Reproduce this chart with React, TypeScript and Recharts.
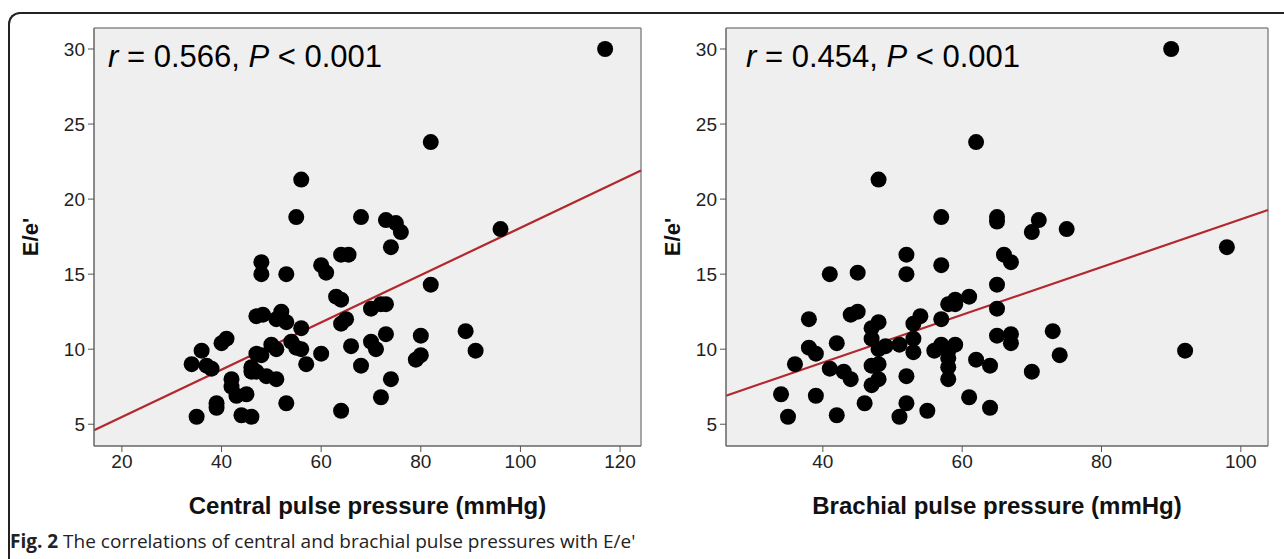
import React from "react";
import {
  CartesianGrid,
  ReferenceLine,
  Scatter,
  ScatterChart,
  XAxis,
  YAxis,
} from "recharts";

// Central pulse pressure (mmHg) vs E/e'
const centralPP = [
  117, 82, 56, 55, 68, 73, 75, 76, 74, 96, 64, 65.5, 48, 48, 53, 60, 61, 82,
  63, 64, 70, 72, 73, 47, 48.3, 52, 51, 53, 56, 65, 64, 73, 80, 89, 91, 41,
  40, 36, 34, 37, 38, 47, 48, 50, 51, 54, 55, 56, 57, 60, 66, 70, 71, 68, 79,
  80, 74, 72, 64, 53, 46, 47, 46, 49, 51, 42, 42, 43, 45, 39, 39, 35, 44, 46,
];
const centralEe = [
  30, 23.8, 21.3, 18.8, 18.8, 18.6, 18.4, 17.8, 16.8, 18, 16.3, 16.3, 15.8,
  15.0, 15.0, 15.6, 15.1, 14.3, 13.5, 13.3, 12.7, 13.0, 13.0, 12.2, 12.3,
  12.5, 12.0, 11.8, 11.4, 12.0, 11.7, 11.0, 10.9, 11.2, 9.9, 10.7, 10.4, 9.9,
  9.0, 8.9, 8.7, 9.7, 9.6, 10.3, 10.0, 10.5, 10.1, 10.0, 9.0, 9.7, 10.2, 10.5,
  10.0, 8.9, 9.3, 9.6, 8.0, 6.8, 5.9, 6.4, 8.8, 8.5, 8.5, 8.2, 8.0, 8.0, 7.5,
  6.9, 7.0, 6.4, 6.1, 5.5, 5.6, 5.5,
];

// Brachial pulse pressure (mmHg) vs E/e'
const brachialPP = [
  90, 62, 48, 57, 65, 65, 71, 70, 75, 98, 52, 57, 66, 67, 41, 45, 52, 65, 61,
  58, 59, 59, 65, 57, 54, 53, 38, 44, 45, 48, 47, 47, 42, 38, 39, 36, 34, 35,
  39, 42, 41, 43, 44, 46, 47, 48, 47, 48, 48, 49, 51, 53, 53, 52, 52, 51, 55,
  56, 57, 58, 58, 59, 58, 58, 61, 62, 64, 64, 65, 67, 67, 70, 73, 74, 92,
];
const brachialEe = [
  30, 23.8, 21.3, 18.8, 18.8, 18.5, 18.6, 17.8, 18, 16.8, 16.3, 15.6, 16.3,
  15.8, 15.0, 15.1, 15.0, 14.3, 13.5, 13.0, 13.3, 13.0, 12.7, 12.0, 12.2,
  11.7, 12.0, 12.3, 12.5, 11.8, 11.4, 10.7, 10.4, 10.1, 9.7, 9.0, 7.0, 5.5,
  6.9, 5.6, 8.7, 8.5, 8.0, 6.4, 7.6, 8.0, 8.9, 9.0, 10.0, 10.2, 10.3, 10.7,
  9.8, 8.2, 6.4, 5.5, 5.9, 9.9, 10.3, 9.9, 9.4, 10.3, 8.8, 8.0, 6.8, 9.3, 8.9,
  6.1, 10.9, 11.0, 10.4, 8.5, 11.2, 9.6, 9.9,
];

// fitted regression lines, end points
const centralFit = [
  { x: 14.4, y: 4.6 },
  { x: 124.2, y: 21.9 },
];
const brachialFit = [
  { x: 26.1, y: 6.9 },
  { x: 103.9, y: 19.27 },
];

const centralTicks = [20, 40, 60, 80, 100, 120];
const brachialTicks = [40, 60, 80, 100];
const eeTicks = [5, 10, 15, 20, 25, 30];

const centralDomain = [14.4, 124.2];
const brachialDomain = [26.1, 103.9];
const eeDomain = [3.55, 31.4];

const toPoints = (xs: number[], ys: number[]) =>
  xs.map((x, i) => ({ x, y: ys[i] }));

const AXIS_FONT = "Liberation Sans, Arial, sans-serif";
const FIT_COLOR = "#b3282d";

function Dot(props: { cx?: number; cy?: number }) {
  if (props.cx === undefined || props.cy === undefined) return null;
  return <circle cx={props.cx} cy={props.cy} r={8} fill="#000" />;
}

function YTitle({ viewBox, dx }: { viewBox?: any; dx: number }) {
  if (!viewBox) return null;
  const x = viewBox.x + dx;
  const y = viewBox.y + viewBox.height / 2;
  return (
    <text
      x={x}
      y={y}
      transform={`rotate(-90, ${x}, ${y})`}
      textAnchor="middle"
      dominantBaseline="central"
      fontFamily={AXIS_FONT}
      fontWeight={700}
      fontSize={22}
      fill="#111"
    >
      E/e'
    </text>
  );
}

function XTitle({ viewBox, value }: { viewBox?: any; value: string }) {
  if (!viewBox) return null;
  return (
    <text
      x={viewBox.x + viewBox.width / 2}
      y={viewBox.y + 68}
      textAnchor="middle"
      fontFamily={AXIS_FONT}
      fontWeight={700}
      fontSize={24}
      fill="#111"
    >
      {value}
    </text>
  );
}

type PanelProps = {
  left: number;
  width: number;
  yAxisWidth: number;
  marginRight: number;
  xs: number[];
  ys: number[];
  fit: { x: number; y: number }[];
  xDomain: number[];
  xTicks: number[];
  xTitle: string;
  yTitleDx: number;
};

function Panel(p: PanelProps) {
  const data = toPoints(p.xs, p.ys);
  return (
    <div style={{ position: "absolute", left: p.left, top: 0 }}>
      <ScatterChart
        width={p.width}
        height={559}
        margin={{ top: 28, right: p.marginRight, bottom: 0, left: 0 }}
      >
        <CartesianGrid fill="#efefef" horizontal={false} vertical={false} />
        <XAxis
          type="number"
          dataKey="x"
          domain={p.xDomain}
          ticks={p.xTicks}
          allowDataOverflow
          height={113}
          tickSize={6}
          tickMargin={3}
          axisLine={{ stroke: "#666", strokeWidth: 1.5 }}
          tickLine={{ stroke: "#555" }}
          tick={{ fontSize: 19, fill: "#222", fontFamily: AXIS_FONT }}
          label={{
            content: (lp: any) => <XTitle viewBox={lp.viewBox} value={p.xTitle} />,
          }}
        />
        <YAxis
          type="number"
          dataKey="y"
          domain={eeDomain}
          ticks={eeTicks}
          allowDataOverflow
          width={p.yAxisWidth}
          tickSize={6}
          tickMargin={3}
          axisLine={{ stroke: "#666", strokeWidth: 1.5 }}
          tickLine={{ stroke: "#555" }}
          tick={{ fontSize: 19, fill: "#222", fontFamily: AXIS_FONT }}
          label={{
            content: (lp: any) => <YTitle viewBox={lp.viewBox} dx={p.yTitleDx} />,
          }}
        />
        <ReferenceLine y={eeDomain[1]} stroke="#8a8a8a" strokeWidth={1.5} />
        <ReferenceLine x={p.xDomain[1]} stroke="#8a8a8a" strokeWidth={1.5} />
        <Scatter data={data} shape={<Dot />} isAnimationActive={false} />
        <ReferenceLine
          segment={p.fit}
          stroke={FIT_COLOR}
          strokeWidth={2.2}
          ifOverflow="visible"
        />
      </ScatterChart>
    </div>
  );
}

export default function App() {
  return (
    <div
      style={{
        position: "absolute",
        left: 0,
        top: 0,
        width: 1284,
        height: 559,
        overflow: "hidden",
        background: "#fff",
      }}
    >
      <div
        style={{
          position: "absolute",
          left: 8,
          top: 12,
          width: 1300,
          height: 600,
          borderTop: "2px solid #222",
          borderLeft: "2px solid #222",
          borderTopLeftRadius: 12,
        }}
      />
      <Panel
        left={0}
        width={660}
        yAxisWidth={94}
        marginRight={19}
        xs={centralPP}
        ys={centralEe}
        fit={centralFit}
        xDomain={centralDomain}
        xTicks={centralTicks}
        xTitle="Central pulse pressure (mmHg)"
        yTitleDx={30}
      />
      <Panel
        left={640}
        width={644}
        yAxisWidth={86}
        marginRight={16}
        xs={brachialPP}
        ys={brachialEe}
        fit={brachialFit}
        xDomain={brachialDomain}
        xTicks={brachialTicks}
        xTitle="Brachial pulse pressure (mmHg)"
        yTitleDx={32}
      />
      <svg
        width={1284}
        height={559}
        style={{ position: "absolute", left: 0, top: 0, pointerEvents: "none" }}
      >
        <text x={108} y={67} fontFamily={AXIS_FONT} fontSize={31} fill="#000">
          <tspan fontStyle="italic">r</tspan> = 0.566,{" "}
          <tspan fontStyle="italic">P</tspan> {"< 0.001"}
        </text>
        <text x={746} y={67} fontFamily={AXIS_FONT} fontSize={31} fill="#000">
          <tspan fontStyle="italic">r</tspan> = 0.454,{" "}
          <tspan fontStyle="italic">P</tspan> {"< 0.001"}
        </text>
      </svg>
      <div
        style={{
          position: "absolute",
          left: 10,
          top: 528,
          fontFamily: "'Open Sans', sans-serif",
          fontSize: 19,
          color: "#222",
          whiteSpace: "nowrap",
        }}
      >
        <b>Fig. 2</b> The correlations of central and brachial pulse pressures
        with E/e'
      </div>
    </div>
  );
}
